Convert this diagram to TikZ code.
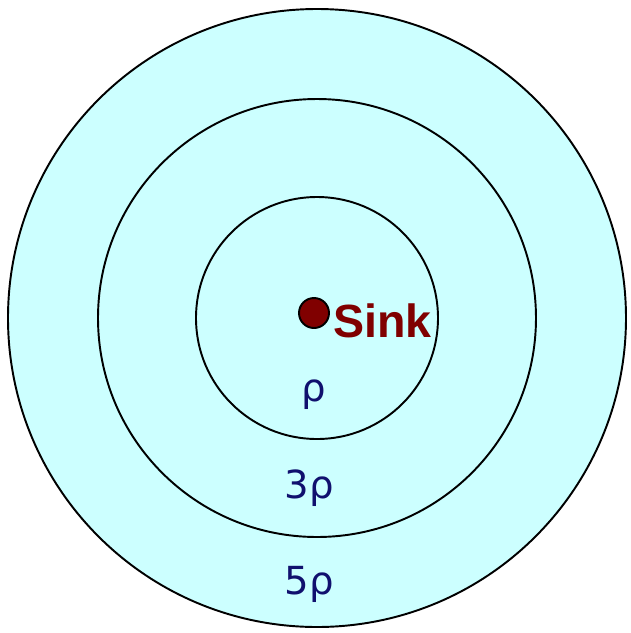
\documentclass[tikz,border=0pt]{standalone}
\usepackage{fontspec}
\setmainfont{Liberation Sans}
\newfontfamily\labelfont{DejaVu Sans}
\usetikzlibrary{positioning}
\definecolor{skycyan}{HTML}{CCFFFF}
\definecolor{sinkred}{HTML}{800000}
\definecolor{rhonavy}{HTML}{10106E}

\begin{document}
\begin{tikzpicture}
\useasboundingbox (0,0) rectangle (12.6,-12.66);
\tikzset{ring/.style={circle, draw=black, line width=1.1pt, fill=skycyan, inner sep=0pt},
  hoplabel/.style={anchor=base, inner sep=0pt, text=rhonavy, font=\labelfont\fontsize{22}{24}\selectfont}}
\node[ring, minimum size=12.36cm] (outer) at (6.34,-6.36) {};
\node[ring, minimum size=8.76cm] (middle) at (outer.center) {};
\node[ring, minimum size=4.84cm] (inner) at (outer.center) {};
\node[circle, draw=black, line width=1.1pt, fill=sinkred, minimum size=0.6cm, inner sep=0pt] (sink) at (6.28,-6.26) {};
\node[anchor=base west, inner sep=0pt, text=sinkred, font=\bfseries\fontsize{26.5}{28}\selectfont] (sinklabel) at (6.66,-6.74) {Sink};
\node[hoplabel] (rho1) at (6.28,-8.02) {ρ};
\node[hoplabel] (rho3) at (6.18,-9.96) {3ρ};
\node[hoplabel] (rho5) at (6.18,-11.88) {5ρ};
\end{tikzpicture}
\end{document}
